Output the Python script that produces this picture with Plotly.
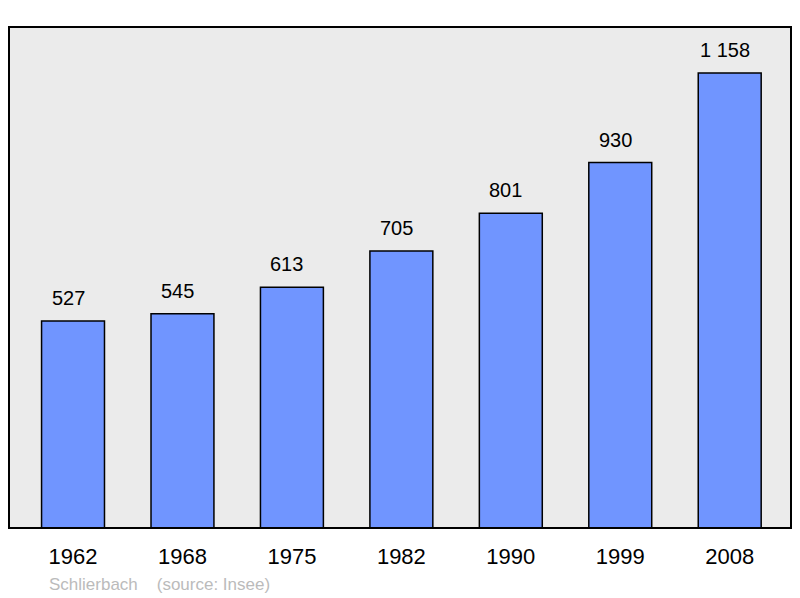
import plotly.graph_objects as go

years = ["1962", "1968", "1975", "1982", "1990", "1999", "2008"]
population = [527, 545, 613, 705, 801, 930, 1158]
value_labels = ["527", "545", "613", "705", "801", "930", "1 158"]

xs = list(range(len(years)))
FONT = "Liberation Sans, Arial, sans-serif"

fig = go.Figure()
fig.add_trace(go.Bar(
    x=xs, y=population, width=0.575,
    marker=dict(color="#7095FF", line=dict(color="#000000", width=1.5)),
    hoverinfo="skip",
))

for x, v, lab in zip(xs, population, value_labels):
    fig.add_annotation(x=x, y=v, text=lab, showarrow=False, yshift=23, xshift=-5,
                       font=dict(size=20, color="#000000", family=FONT))

fig.add_annotation(xref="paper", yref="paper", x=0.0485, y=-0.112, xanchor="left", yanchor="middle",
                   text="Schlierbach&nbsp;&nbsp;&nbsp;&nbsp;(source: Insee)", showarrow=False,
                   font=dict(size=17, color="#BBBBBB", family=FONT))

fig.add_shape(type="rect", xref="paper", yref="paper", x0=0, y0=0, x1=1, y1=1,
              line=dict(color="#000000", width=2), layer="above")

fig.update_layout(
    width=800, height=598,
    margin=dict(l=9, r=9, t=27, b=70),
    paper_bgcolor="#FFFFFF", plot_bgcolor="#EBEBEB",
    showlegend=False,
    font=dict(family=FONT, color="#000000"),
    xaxis=dict(tickmode="array", tickvals=xs, ticktext=years, range=[-0.585, 6.56],
               showgrid=False, zeroline=False, showline=False, ticks="",
               tickfont=dict(size=22), ticklabelstandoff=13, fixedrange=True),
    yaxis=dict(range=[0, 1275], showgrid=False, zeroline=False, showticklabels=False,
               showline=False, ticks="", fixedrange=True),
)

fig.write_html("out.html", config={"displayModeBar": False},
               post_script="document.body.style.margin='0';document.body.style.overflow='hidden';")
